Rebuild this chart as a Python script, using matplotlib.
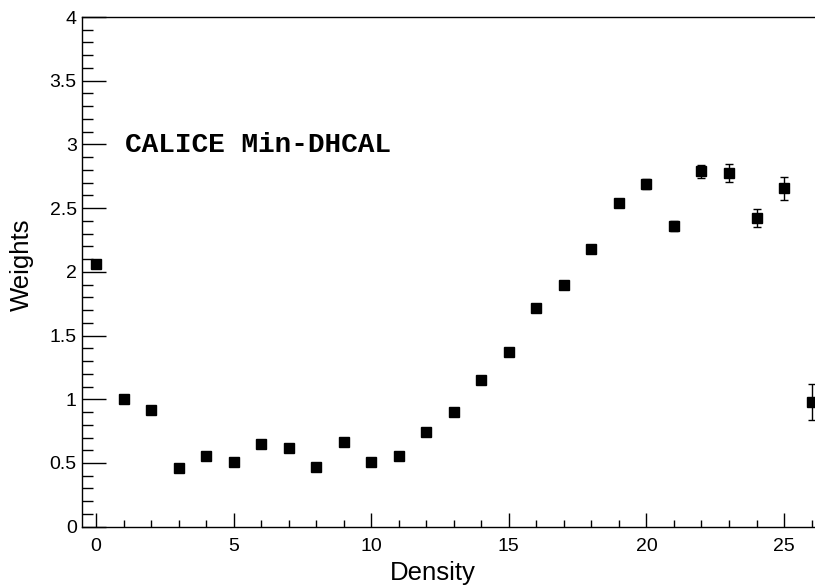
import numpy as np
import matplotlib.pyplot as plt
from matplotlib.ticker import MultipleLocator

density = np.arange(0, 27)
weights = np.array([2.06, 1.00, 0.913, 0.46, 0.556, 0.51, 0.648, 0.617, 0.472, 0.661,
                    0.511, 0.556, 0.743, 0.902, 1.152, 1.374, 1.718, 1.896, 2.18, 2.54,
                    2.69, 2.36, 2.79, 2.775, 2.42, 2.657, 0.976])
errors = np.array([0.01, 0.01, 0.01, 0.01, 0.01, 0.01, 0.01, 0.01, 0.01, 0.01,
                   0.01, 0.01, 0.01, 0.01, 0.01, 0.015, 0.015, 0.02, 0.02, 0.02,
                   0.04, 0.04, 0.05, 0.07, 0.07, 0.09, 0.14])

plt.rcParams['font.family'] = ['Liberation Sans', 'DejaVu Sans']

fig = plt.figure(figsize=(8.15, 5.85), dpi=100)
ax = fig.add_axes([82.3 / 815, 58.3 / 585, 743 / 815, 509.7 / 585])

ax.errorbar(density, weights, yerr=errors, fmt='s', color='black',
            markersize=7, elinewidth=1, capsize=3, capthick=1)

ax.set_xlim(-0.5, 26.5)
ax.set_ylim(0, 4)
ax.xaxis.set_major_locator(MultipleLocator(5))
ax.xaxis.set_minor_locator(MultipleLocator(1))
ax.yaxis.set_major_locator(MultipleLocator(0.5))
ax.yaxis.set_minor_locator(MultipleLocator(0.1))
ax.yaxis.set_major_formatter(plt.FuncFormatter(lambda v, p: f'{v:g}'))

ax.tick_params(axis='both', which='both', direction='in', top=False, right=False,
               labelsize=14, colors='black', width=1)
ax.tick_params(axis='x', which='major', length=10, pad=8)
ax.tick_params(axis='x', which='minor', length=5)
ax.tick_params(axis='y', which='major', length=17, pad=4)
ax.tick_params(axis='y', which='minor', length=8)
for s in ax.spines.values():
    s.set_linewidth(1)

fig.text(433 / 815, 1 - 573 / 585, 'Density', fontsize=18.5, ha='center', va='center')
fig.text(22 / 815, 1 - 265 / 585, 'Weights', fontsize=18.5, ha='center', va='center',
         rotation=90)

fig.text(125 / 815, 1 - 145 / 585, 'CALICE Min-DHCAL', fontsize=20,
         family='Liberation Mono', fontweight='bold', va='center', ha='left')

fig.savefig('out.png', dpi=100)
